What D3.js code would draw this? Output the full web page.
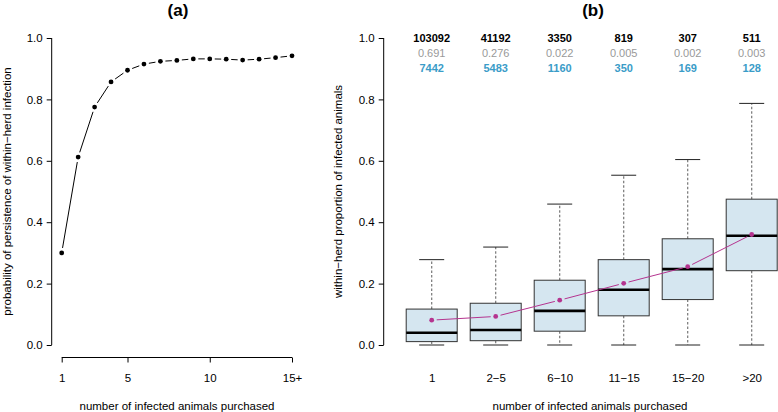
<!DOCTYPE html>
<html><head><meta charset="utf-8">
<script src="https://cdn.jsdelivr.net/npm/d3@7"></script>
<style>body{margin:0;background:#fff}svg{display:block}text{font-family:"Liberation Sans",Arial,sans-serif}</style>
</head><body><svg id="c" width="778" height="412"></svg>
<script>
// Panel (a)
const aX = [1,2,3,4,5,6,7,8,9,10,11,12,13,14,15];
const aY = [0.300,0.612,0.775,0.857,0.895,0.915,0.924,0.927,0.932,0.932,0.931,0.928,0.931,0.936,0.942];
const aTicks = [1,5,10,15];
const aTickLabels = ["1","5","10","15+"];
// Panel (b)
const categories = ["1","2\u22125","6\u221210","11\u221215","15\u221220",">20"];
const q1 = [0.011,0.014,0.045,0.095,0.148,0.242];
const medians = [0.040,0.049,0.111,0.180,0.247,0.356];
const q3 = [0.117,0.136,0.211,0.278,0.346,0.475];
const whiskLo = [0,0,0,0,0,0];
const whiskHi = [0.278,0.319,0.459,0.553,0.604,0.787];
const means = [0.081,0.093,0.146,0.201,0.255,0.360];
const countsN = ["103092","41192","3350","819","307","511"];
const propN = ["0.691","0.276","0.022","0.005","0.002","0.003"];
const countsBlue = ["7442","5483","1160","350","169","128"];
const yTicks = [0,0.2,0.4,0.6,0.8,1.0];

const svg = d3.select("#c");
const y = d3.scaleLinear().domain([0,1]).range([345,38]);
const fmt = d3.format(".1f");

function yAxis(x0){
  const g = svg.append("g").attr("transform",`translate(${x0},0)`)
    .call(d3.axisLeft(y).tickValues(yTicks).tickFormat(fmt).tickSize(5).tickPadding(4));
  g.select(".domain").attr("d",`M0,${y(0)}V${y(1)}`).attr("stroke","#000");
  g.selectAll(".tick line").attr("stroke","#000");
  g.selectAll("text").attr("font-size",11.5).attr("fill","#000").style("font-family","Liberation Sans, Arial");
}
function typeB(g, pts, gap, color, r){
  for(let i=0;i<pts.length-1;i++){
    const [x1,y1]=pts[i],[x2,y2]=pts[i+1];
    const dx=x2-x1, dy=y2-y1, L=Math.hypot(dx,dy);
    if(L>2*gap){
      const ux=dx/L, uy=dy/L;
      g.append("line").attr("x1",x1+ux*gap).attr("y1",y1+uy*gap)
        .attr("x2",x2-ux*gap).attr("y2",y2-uy*gap)
        .attr("stroke",color).attr("stroke-width",1);
    }
  }
  g.selectAll("circle.p").data(pts).enter().append("circle")
    .attr("cx",d=>d[0]).attr("cy",d=>d[1]).attr("r",r).attr("fill",color);
}

// ---- Panel a
const xa = d3.scaleLinear().domain([1,15]).range([61.7,292]);
yAxis(51.7);
const gxa = svg.append("g").attr("transform","translate(0,357.5)")
  .call(d3.axisBottom(xa).tickValues(aTicks).tickFormat((d,i)=>aTickLabels[i]).tickSize(5).tickPadding(11));
gxa.select(".domain").attr("d",`M${xa(1)},0H${xa(15)}`).attr("stroke","#000");
gxa.selectAll("text").attr("font-size",11.5).attr("fill","#000");
typeB(svg.append("g"), aX.map((d,i)=>[xa(d),y(aY[i])]), 5, "#000", 2.4);
svg.append("text").attr("x",178).attr("y",16).attr("text-anchor","middle").attr("font-size",17).attr("font-weight","bold").text("(a)");
svg.append("text").attr("x",177).attr("y",410).attr("text-anchor","middle").attr("font-size",11.5).text("number of infected animals purchased");
svg.append("text").attr("transform","translate(11,191.5) rotate(-90)").attr("text-anchor","middle").attr("font-size",11.5).text("probability of persistence of within\u2212herd infection");

// ---- Panel b
const xb = d3.scalePoint().domain(categories).range([431.7,751.7]);
yAxis(383.7);
const gxb = svg.append("g").attr("transform","translate(0,357.5)")
  .call(d3.axisBottom(xb).tickSize(0).tickPadding(16));
gxb.select(".domain").remove();
gxb.selectAll("text").attr("font-size",11.5).attr("fill","#000");
const bw = 51, cw = 25;
const gb = svg.append("g");
categories.forEach((c,i)=>{
  const cx = xb(c);
  gb.append("line").attr("x1",cx).attr("x2",cx).attr("y1",y(q3[i])).attr("y2",y(whiskHi[i]))
    .attr("stroke","#777").attr("stroke-width",1.2).attr("stroke-dasharray","2.5,2");
  gb.append("line").attr("x1",cx).attr("x2",cx).attr("y1",y(q1[i])).attr("y2",y(whiskLo[i]))
    .attr("stroke","#777").attr("stroke-width",1.2).attr("stroke-dasharray","2.5,2");
  gb.append("line").attr("x1",cx-cw/2).attr("x2",cx+cw/2).attr("y1",y(whiskHi[i])).attr("y2",y(whiskHi[i])).attr("stroke","#222").attr("stroke-width",1);
  gb.append("line").attr("x1",cx-cw/2).attr("x2",cx+cw/2).attr("y1",y(whiskLo[i])).attr("y2",y(whiskLo[i])).attr("stroke","#222").attr("stroke-width",1);
  gb.append("rect").attr("x",cx-bw/2).attr("width",bw).attr("y",y(q3[i])).attr("height",y(q1[i])-y(q3[i]))
    .attr("fill","#d5e6f0").attr("stroke","#333").attr("stroke-width",1);
  gb.append("line").attr("x1",cx-bw/2).attr("x2",cx+bw/2).attr("y1",y(medians[i])).attr("y2",y(medians[i])).attr("stroke","#000").attr("stroke-width",2.6);
  gb.append("text").attr("x",cx).attr("y",42).attr("text-anchor","middle").attr("font-size",11).attr("font-weight","bold").attr("fill","#000").text(countsN[i]);
  gb.append("text").attr("x",cx).attr("y",57).attr("text-anchor","middle").attr("font-size",11).attr("fill","#999").text(propN[i]);
  gb.append("text").attr("x",cx).attr("y",72).attr("text-anchor","middle").attr("font-size",11).attr("font-weight","bold").attr("fill","#3a9cc8").text(countsBlue[i]);
});
typeB(svg.append("g"), categories.map((c,i)=>[xb(c),y(means[i])]), 5, "#b5348f", 2.4);
svg.append("text").attr("x",593).attr("y",16).attr("text-anchor","middle").attr("font-size",17).attr("font-weight","bold").text("(b)");
svg.append("text").attr("x",590).attr("y",410).attr("text-anchor","middle").attr("font-size",11.5).text("number of infected animals purchased");
svg.append("text").attr("transform","translate(342,191.5) rotate(-90)").attr("text-anchor","middle").attr("font-size",11.5).text("within\u2212herd proportion of infected animals");
</script></body></html>
